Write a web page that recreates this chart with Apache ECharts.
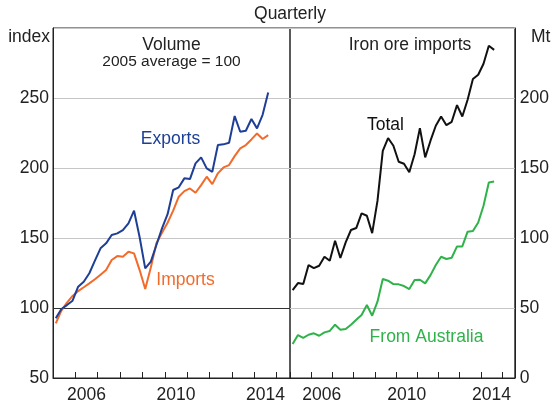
<!DOCTYPE html>
<html>
<head>
<meta charset="utf-8">
<script src="https://cdn.jsdelivr.net/npm/echarts@6/dist/echarts.min.js"></script>
<style>
html,body{margin:0;padding:0;background:#fff;}
#chart{width:552px;height:404px;}
</style>
</head>
<body>
<div id="chart"></div>
<script>
// Quarterly periods (2005 Q1 - 2014 Q3)
var quarters = [
 '2005Q1','2005Q2','2005Q3','2005Q4','2006Q1','2006Q2','2006Q3','2006Q4',
 '2007Q1','2007Q2','2007Q3','2007Q4','2008Q1','2008Q2','2008Q3','2008Q4',
 '2009Q1','2009Q2','2009Q3','2009Q4','2010Q1','2010Q2','2010Q3','2010Q4',
 '2011Q1','2011Q2','2011Q3','2011Q4','2012Q1','2012Q2','2012Q3','2012Q4',
 '2013Q1','2013Q2','2013Q3','2013Q4','2014Q1','2014Q2','2014Q3'
];
// Volume index, 2005 average = 100
var exportsVol = [92.6,99.3,102.1,105.2,115.2,118.8,124.8,133.8,142.6,146.2,152.1,153.3,155.7,160.5,169.5,150.5,
 128.3,133.1,145,156.9,167,184.3,186.2,192.6,192.1,203.3,207.6,199.7,197.3,216.4,216.9,218,237.1,225.9,226.6,235,228.3,238,254];
var importsVol = [89,98.1,103.8,108.6,112.1,114.8,117.6,120.5,123.8,127.1,134.3,137.1,136.6,140.2,139,127.1,
 113.6,129,146.2,153.8,160.9,169.5,179.5,183.5,185.4,182.3,187.8,193.8,188.5,196.2,200.4,202.1,208.5,214,216.4,220.4,224.7,220.7,223.5];
// Iron ore imports, Mt
var ironTotal = [62.8,67.8,67.1,80.7,78.5,80.2,86.6,83.8,98,85.7,96.9,105.7,107.1,117.6,115.9,103.5,
 126.5,162.3,171.4,165.9,154.5,153,147,159.8,178.5,157.6,169.5,180.2,186.8,180.6,183,194.9,186.8,198.7,213.5,216.6,224.5,237.3,234.4];
var ironAustralia = [24.3,30.7,28.6,30.9,31.9,30.2,32.6,33.6,38.1,34.5,35,38.1,41.6,45,52.1,44.5,
 54.5,70.7,69.5,67.1,66.9,65.7,63.5,70,70.2,67.6,73.5,80.7,86.6,85,85.9,94,94,104.5,105,111.1,123,139.7,140.4];
// Axis tick labels
var yearLabels = [2006, 2010, 2014];
var leftTicks = [50, 100, 150, 200, 250];
var rightTicks = [0, 50, 100, 150, 200];

function qx(q){ var y = parseInt(q.slice(0,4),10); var n = parseInt(q.slice(5),10); return y + (n-1)*0.25 + 0.125; }
function pairs(vals){ return vals.map(function(v,i){ return [qx(quarters[i]), v]; }); }

var FONT = '"Liberation Sans", Arial, sans-serif';
var TXT = '#222';
var chart = echarts.init(document.getElementById('chart'), null, {renderer:'canvas'});

function xAxisFor(gi){
  return {
    type:'value', gridIndex:gi, min:2005, max:2015.6, interval:1,
    axisLine:{show:true, lineStyle:{color:'#222', width:1}},
    axisTick:{show:true, inside:true, length:6, lineStyle:{color:'#222'}},
    splitLine:{show:false},
    axisLabel:{show:true, customValues: yearLabels.map(function(y){return y+0.5;}),
      formatter:function(v){ return String(Math.floor(v)); },
      fontSize:17.5, fontFamily:FONT, color:TXT, margin:8}
  };
}

var option = {
  animation:false,
  backgroundColor:'#fff',
  grid:[
    {left:53, top:28, width:237, height:350, show:true, borderColor:'#222', borderWidth:1, containLabel:false},
    {left:290, top:28, width:237, height:350, show:true, borderColor:'#222', borderWidth:1, containLabel:false}
  ],
  xAxis:[ xAxisFor(0), xAxisFor(1) ],
  yAxis:[
    {type:'value', gridIndex:0, position:'left', min:50, max:300, interval:50,
     axisLine:{show:true, lineStyle:{color:'#222'}}, axisTick:{show:false},
     splitLine:{show:true, lineStyle:{color:'#c6c6c6', width:1}},
     axisLabel:{customValues:leftTicks, fontSize:17.5, fontFamily:FONT, color:TXT, margin:4}},
    {type:'value', gridIndex:1, position:'right', min:0, max:250, interval:50,
     axisLine:{show:true, lineStyle:{color:'#222'}}, axisTick:{show:false},
     splitLine:{show:true, lineStyle:{color:'#c6c6c6', width:1}},
     axisLabel:{customValues:rightTicks, fontSize:17.5, fontFamily:FONT, color:TXT, margin:5}}
  ],
  series:[
    {type:'line', name:'Imports', xAxisIndex:0, yAxisIndex:0, data:pairs(importsVol), showSymbol:false,
     lineStyle:{color:'#f26b2b', width:2}, itemStyle:{color:'#f26b2b'}, z:3,
     markLine:{silent:true, symbol:'none', label:{show:false}, lineStyle:{color:'#333', type:'solid', width:1},
       data:[{yAxis:100}], z:2}},
    {type:'line', name:'Exports', xAxisIndex:0, yAxisIndex:0, data:pairs(exportsVol), showSymbol:false,
     lineStyle:{color:'#1e3f96', width:2}, itemStyle:{color:'#1e3f96'}, z:4},
    {type:'line', name:'Total', xAxisIndex:1, yAxisIndex:1, data:pairs(ironTotal), showSymbol:false,
     lineStyle:{color:'#111', width:2}, itemStyle:{color:'#111'}, z:3},
    {type:'line', name:'From Australia', xAxisIndex:1, yAxisIndex:1, data:pairs(ironAustralia), showSymbol:false,
     lineStyle:{color:'#2fb24a', width:2}, itemStyle:{color:'#2fb24a'}, z:3}
  ],
  graphic:[
    {type:'text', x:290, y:14, style:{text:'Quarterly', font:'17.5px '+FONT, fill:TXT, textAlign:'center', textVerticalAlign:'middle'}},
    {type:'text', x:50, y:37, style:{text:'index', font:'17.5px '+FONT, fill:TXT, textAlign:'right', textVerticalAlign:'middle'}},
    {type:'text', x:531, y:37, style:{text:'Mt', font:'17.5px '+FONT, fill:TXT, textAlign:'left', textVerticalAlign:'middle'}},
    {type:'text', x:171.5, y:45, style:{text:'Volume', font:'17.5px '+FONT, fill:TXT, textAlign:'center', textVerticalAlign:'middle'}},
    {type:'text', x:171.5, y:62, style:{text:'2005 average = 100', font:'15.5px '+FONT, fill:TXT, textAlign:'center', textVerticalAlign:'middle'}},
    {type:'text', x:410, y:45, style:{text:'Iron ore imports', font:'17.5px '+FONT, fill:TXT, textAlign:'center', textVerticalAlign:'middle'}},
    {type:'text', x:170.5, y:139, style:{text:'Exports', font:'17.5px '+FONT, fill:'#1e3f96', textAlign:'center', textVerticalAlign:'middle'}},
    {type:'text', x:185.5, y:280, style:{text:'Imports', font:'17.5px '+FONT, fill:'#f26b2b', textAlign:'center', textVerticalAlign:'middle'}},
    {type:'text', x:385.5, y:125, style:{text:'Total', font:'17.5px '+FONT, fill:'#111', textAlign:'center', textVerticalAlign:'middle'}},
    {type:'text', x:426.5, y:337, style:{text:'From Australia', font:'17.5px '+FONT, fill:'#2fb24a', textAlign:'center', textVerticalAlign:'middle'}}
  ]
};
chart.setOption(option);
</script>
</body>
</html>
